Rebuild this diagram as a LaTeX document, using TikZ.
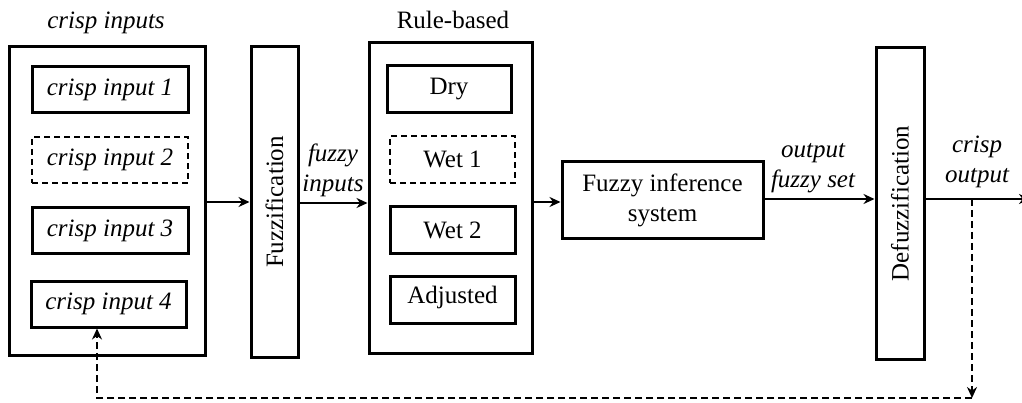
\documentclass[tikz,border=0pt]{standalone}
\usepackage{fontspec}
\setmainfont{Liberation Serif}
\usetikzlibrary{arrows.meta}
\begin{document}
\begin{tikzpicture}[x=1pt,y=-1pt,
  box/.style={draw,line width=3pt,rectangle,inner sep=0pt},
  dbox/.style={box,line width=2.6pt,dash pattern=on 6pt off 4pt},
  lbl/.style={font=\fontsize{25}{30}\selectfont},
  ilbl/.style={font=\fontsize{25}{30}\selectfont\itshape,align=center},
  arr/.style={line width=2.6pt,-{Stealth[length=11pt,width=10pt]}},
  darr/.style={arr,dash pattern=on 7pt off 4pt}]
\useasboundingbox (0,0) rectangle (1022,403);
% crisp inputs
\node[box,minimum width=196pt,minimum height=308pt] (crisp) at (107,201) {};
\node[ilbl] (crispT) at (106,23) {crisp inputs};
\node[box,lbl,font=\fontsize{25}{30}\selectfont\itshape,minimum width=156pt,minimum height=46pt] (in1) at (110,90) {crisp input 1};
\node[dbox,lbl,font=\fontsize{25}{30}\selectfont\itshape,minimum width=156pt,minimum height=46pt] (in2) at (110,160) {crisp input 2};
\node[box,lbl,font=\fontsize{25}{30}\selectfont\itshape,minimum width=156pt,minimum height=46pt] (in3) at (110,231) {crisp input 3};
\node[box,lbl,font=\fontsize{25}{30}\selectfont\itshape,minimum width=155pt,minimum height=46pt] (in4) at (108.5,304) {crisp input 4};
% fuzzification
\node[box,minimum width=47pt,minimum height=310pt] (fuzz) at (274.5,202) {};
\node[lbl,rotate=90] (fuzzT) at (fuzz.center) {Fuzzification};
\node[ilbl] (fin) at (333,170) {fuzzy\\inputs};
% rule based
\node[box,minimum width=163pt,minimum height=310pt] (rule) at (450.5,198) {};
\node[lbl] (ruleT) at (453,20) {Rule-based};
\node[box,lbl,minimum width=124pt,minimum height=47pt] (dry) at (449,89.5) {Dry};
\node[dbox,lbl,minimum width=125pt,minimum height=47pt] (wet1) at (452.5,159.5) {Wet 1};
\node[box,lbl,minimum width=125pt,minimum height=47pt] (wet2) at (452.5,230) {Wet 2};
\node[box,lbl,minimum width=125pt,minimum height=47pt,text depth=10pt] (adj) at (452.5,299.5) {Adjusted};
% FIS
\node[box,lbl,align=center,minimum width=201pt,minimum height=77pt] (fis) at (662.5,200.5) {Fuzzy inference\\system};
\node[ilbl] (ofs) at (813,168) {output\\fuzzy set};
% defuzz
\node[box,minimum width=48pt,minimum height=311pt] (defuzz) at (900,203.5) {};
\node[lbl,rotate=90] (defuzzT) at (defuzz.center) {Defuzzification};
\node[ilbl] (cout) at (977,162) {crisp\\output};
% coordinates
\coordinate (tap) at (972,199);
\coordinate (outEnd) at (1030,199);
\coordinate (c1) at (972,398);
\coordinate (c2) at (97,398);
% arrows
\draw[arr] (crisp.east |- 0,202) -- (fuzz.west |- 0,202);
\draw[arr] (fuzz.east |- 0,203) -- (rule.west |- 0,203);
\draw[arr] (rule.east |- 0,202) -- (fis.west |- 0,202);
\draw[arr] (fis.east |- 0,199) -- (defuzz.west |- 0,199);
\draw[arr] (defuzz.east |- tap) -- (outEnd);
\draw[darr] (tap) -- (c1);
\draw[darr] (c1) -- (c2) -- (c2 |- in4.south);
\end{tikzpicture}
\end{document}
